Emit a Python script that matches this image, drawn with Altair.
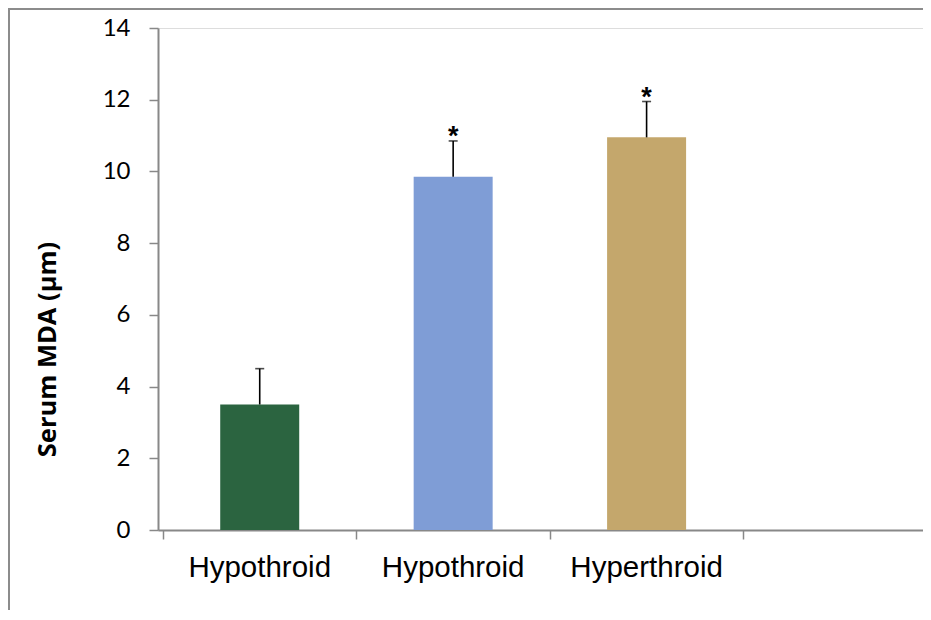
import altair as alt
import pandas as pd

categories = ["Hypothroid", "Hypothroid", "Hyperthroid"]
means = [3.5, 9.85, 10.95]
errors = [1.0, 1.0, 1.0]
stars = ["", "*", "*"]
colors = ["#2b6440", "#7f9dd6", "#c4a76c"]
y_ticks = [0, 2, 4, 6, 8, 10, 12, 14]
x_ticks = [0, 1, 2, 3]

W, H = 765, 502
slot_px = 196.0

df = pd.DataFrame({
    "idx": list(range(len(categories))),
    "cat": categories,
    "mean": means,
    "err": errors,
    "star": stars,
    "color": colors,
})

base = alt.Chart(df).transform_calculate(
    pos="datum.idx + 0.5",
    top="datum.mean + datum.err",
)

xscale = alt.Scale(domain=[0, W / slot_px], nice=False, zero=False)
yscale = alt.Scale(domain=[0, 14], nice=False)

x_enc = alt.X("pos:Q", scale=xscale,
              axis=alt.Axis(values=x_ticks, labels=False, title=None, grid=False,
                            domainColor="#888888", domainWidth=2,
                            tickColor="#888888", tickWidth=1.5, tickSize=9))
y_axis = alt.Axis(values=y_ticks, grid=False, title="Serum MDA (µm)",
                  domainColor="#888888", domainWidth=2,
                  tickColor="#888888", tickWidth=1.5, tickSize=9,
                  labelFont="Lato", labelFontSize=24, labelColor="#000000",
                  labelPadding=19,
                  titleFont="Open Sans", titleFontSize=25.5, titleFontWeight="bold",
                  titleColor="#000000", titleX=-98, titleY=321,
                  titleAngle=270, titleBaseline="bottom")

bars = base.mark_bar(size=79).encode(
    x=x_enc,
    y=alt.Y("mean:Q", scale=yscale, axis=y_axis),
    color=alt.Color("color:N", scale=None, legend=None),
)

rules = base.mark_rule(color="#000000", strokeWidth=1.6).encode(
    x="pos:Q", y="mean:Q", y2="top:Q",
)

caps = base.mark_tick(color="#000000", orient="horizontal", size=9, thickness=1.6).encode(
    x="pos:Q", y="top:Q",
)

star_text = base.mark_text(font="Liberation Sans", fontSize=27, fontWeight="bold",
                           baseline="alphabetic", dy=4, color="#000000").encode(
    x="pos:Q", y="top:Q", text="star:N",
)

labels = base.mark_text(font="Liberation Sans", fontSize=29.5, baseline="alphabetic",
                        color="#000000").encode(
    x="pos:Q", y=alt.value(H + 47), text="cat:N",
)

frame = alt.Chart(df.head(1)).mark_rect(fill=None, stroke="#8c8c8c", strokeWidth=2).encode(
    x=alt.value(-149), x2=alt.value(W + 100),
    y=alt.value(-19), y2=alt.value(H + 200),
)

chart = alt.layer(frame, bars, rules, caps, star_text, labels).properties(
    width=W, height=H,
    autosize=alt.AutoSizeParams(type="none"),
    padding={"left": 150, "top": 20, "right": 0, "bottom": 80},
).configure_view(stroke=None).configure(background="#ffffff")

chart.save("out.html", embed_options={"renderer": "svg", "actions": False})
